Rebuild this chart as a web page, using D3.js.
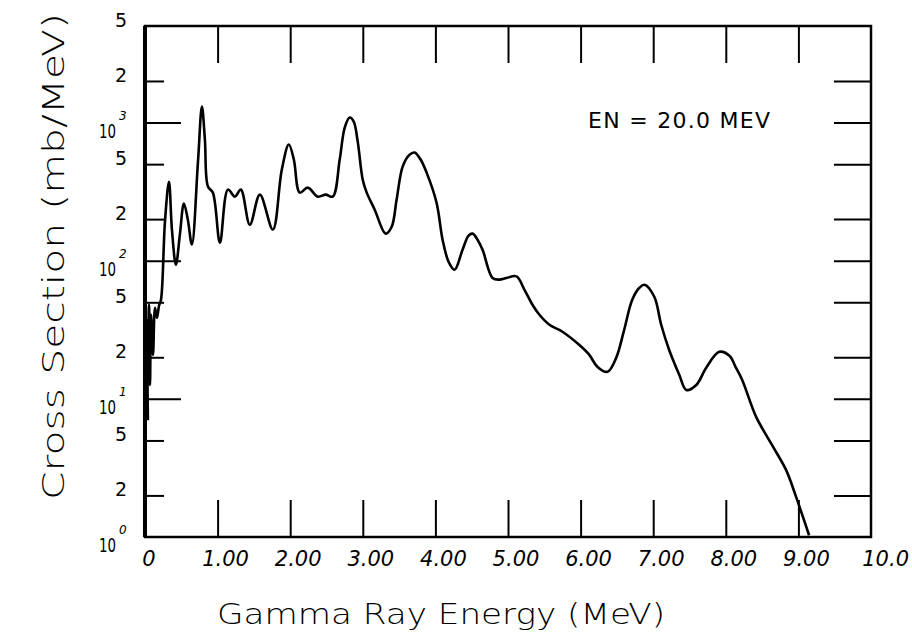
<!DOCTYPE html>
<html>
<head>
<meta charset="utf-8">
<script src="https://cdn.jsdelivr.net/npm/d3@7"></script>
<style>
  body { margin: 0; background: #fff; }
  svg { display: block; }
  text { font-family: "DejaVu Sans", "Liberation Sans", sans-serif; fill: #000; }
</style>
</head>
<body>
<svg id="chart" width="912" height="643"></svg>
<script>
// Gamma-ray production cross section at incident neutron energy 20 MeV
const energy = [
  0.04, 0.028, 0.041, 0.055, 0.069, 0.083, 0.11, 0.138, 0.165, 0.193, 0.22,
  0.275, 0.33, 0.371, 0.426, 0.48, 0.536, 0.59, 0.646, 0.729, 0.784, 0.825,
  0.867, 0.935, 1.032, 1.142, 1.238, 1.32, 1.444, 1.582, 1.761, 1.884, 1.981,
  2.05, 2.132, 2.242, 2.38, 2.49, 2.586, 2.682, 2.751, 2.82, 2.875, 2.93,
  2.999, 3.054, 3.164, 3.315, 3.398, 3.466, 3.549, 3.645, 3.714, 3.796, 3.879,
  4.016, 4.099, 4.182, 4.264, 4.374, 4.457, 4.512, 4.58, 4.65, 4.787, 4.88,
  4.98, 5.117, 5.227, 5.337, 5.433, 5.57, 5.75, 5.98, 6.12, 6.23, 6.37, 6.49,
  6.60, 6.71, 6.81, 6.88, 7.015, 7.11, 7.22, 7.36, 7.455, 7.593, 7.73, 7.91,
  8.05, 8.14, 8.226, 8.418, 8.64, 8.83, 8.968, 9.147
];
const crossSection = [
  7.0, 37, 27, 48, 12.6, 40.6, 20.8, 45.6, 38.6, 47.2, 52,
  192, 373, 168, 93.5, 154, 259, 198, 131, 513, 1306, 753,
  344, 311, 135, 327, 291, 327, 182, 301, 168, 456, 693,
  540, 311, 338, 291, 301, 291, 540, 920, 1087, 1016, 728,
  386, 311, 234, 157, 176, 277, 480, 586, 607, 540, 434,
  263, 142, 98, 86, 120, 152, 157, 142, 120, 75, 73,
  75, 77, 61.6, 48, 40.6, 34.4, 30.6, 24.6, 20.8, 17.1, 15.7, 19.8,
  31.6, 52, 63.7, 67, 54.8, 34.4, 22.6, 14.9, 11.6, 12.6, 16.8, 21.9,
  20.5, 16.8, 13.7, 7.4, 4.6, 3.06, 1.95, 1.03
];

const xTickValues = [1, 2, 3, 4, 5, 6, 7, 8, 9];
const xLabelValues = [0, 1, 2, 3, 4, 5, 6, 7, 8, 9, 10];
const xLabelText = ["0", "1.00", "2.00", "3.00", "4.00", "5.00", "6.00", "7.00", "8.00", "9.00", "10.0"];

const yDecadeTicks = [1, 10, 100, 1000];
const yMinorTicks = [2, 5, 20, 50, 200, 500, 2000];
const yRightTicks = [2, 5, 10, 20, 50, 100, 200, 500, 1000, 2000];
const yDecadeExponents = ["0", "1", "2", "3"];
const yMinorLabelValues = [2, 5, 20, 50, 200, 500, 2000, 5000];
const yMinorLabelText = ["2", "5", "2", "5", "2", "5", "2", "5"];

const annotation = "EN = 20.0 MEV";
const xTitle = "Gamma Ray Energy (MeV)";
const yTitle = "Cross Section (mb/MeV)";

const plotLeft = 145, plotRight = 871, plotTop = 26, plotBottom = 537;
const svg = d3.select("#chart");

const x = d3.scaleLinear().domain([0, 10]).range([plotLeft, plotRight]);
const y = d3.scaleLog().domain([1, 5000]).range([plotBottom, plotTop]);

function styleAxis(g) {
  g.select(".domain").remove();
  g.selectAll(".tick line").attr("stroke", "#000").attr("stroke-width", 2);
  g.selectAll(".tick text").remove();
}

// inward tick marks on all four sides
svg.append("g").attr("transform", `translate(0,${plotBottom})`)
  .call(d3.axisBottom(x).tickValues(xTickValues).tickSize(-37).tickFormat(""))
  .call(styleAxis);
svg.append("g").attr("transform", `translate(0,${plotTop})`)
  .call(d3.axisTop(x).tickValues(xTickValues).tickSize(-37).tickFormat(""))
  .call(styleAxis);
svg.append("g").attr("transform", `translate(${plotLeft},0)`)
  .call(d3.axisLeft(y).tickValues(yDecadeTicks.slice(1)).tickSize(-36).tickFormat(""))
  .call(styleAxis);
svg.append("g").attr("transform", `translate(${plotLeft},0)`)
  .call(d3.axisLeft(y).tickValues(yMinorTicks).tickSize(-19).tickFormat(""))
  .call(styleAxis);
svg.append("g").attr("transform", `translate(${plotRight},0)`)
  .call(d3.axisRight(y).tickValues(yRightTicks).tickSize(-37).tickFormat(""))
  .call(styleAxis);

// frame
svg.append("rect")
  .attr("x", plotLeft).attr("y", plotTop)
  .attr("width", plotRight - plotLeft).attr("height", plotBottom - plotTop)
  .attr("fill", "none").attr("stroke", "#000").attr("stroke-width", 2.5);
svg.append("line")
  .attr("x1", plotLeft).attr("x2", plotLeft).attr("y1", plotTop).attr("y2", plotBottom)
  .attr("stroke", "#000").attr("stroke-width", 4);

// spectrum
const line = d3.line()
  .x((d, i) => x(energy[i]))
  .y(d => y(d))
  .curve(d3.curveCatmullRom.alpha(0.5));
svg.append("path")
  .datum(crossSection)
  .attr("d", line)
  .attr("fill", "none")
  .attr("stroke", "#000")
  .attr("stroke-width", 2.6)
  .attr("stroke-linejoin", "round");

// x tick labels
svg.append("g").selectAll("text")
  .data(xLabelValues)
  .join("text")
  .attr("x", (d, i) => i === 10 ? 909 : x(d) + (i === 0 ? 4 : 8))
  .attr("y", 566)
  .attr("text-anchor", (d, i) => i === 10 ? "end" : "middle")
  .attr("font-size", 21)
  .attr("font-style", "italic")
  .text((d, i) => xLabelText[i]);

// y tick labels: mantissas
svg.append("g").selectAll("text")
  .data(yMinorLabelValues)
  .join("text")
  .attr("x", 127)
  .attr("y", d => y(d) + 1)
  .attr("text-anchor", "end")
  .attr("font-size", 19)
  .text((d, i) => yMinorLabelText[i]);

// y tick labels: powers of ten, base plus raised exponent in one text
const decade = svg.append("g").selectAll("text")
  .data(yDecadeTicks)
  .join("text")
  .attr("x", 99)
  .attr("y", d => y(d) + 15)
  .attr("font-size", 19);
decade.append("tspan")
  .attr("textLength", 17)
  .attr("lengthAdjust", "spacingAndGlyphs")
  .text("10");
decade.append("tspan")
  .attr("dx", 3)
  .attr("dy", -18)
  .attr("font-size", 12)
  .attr("font-style", "italic")
  .text((d, i) => yDecadeExponents[i]);

// annotation
svg.append("text")
  .attr("x", 588).attr("y", 128)
  .attr("font-size", 22)
  .attr("textLength", 182)
  .attr("lengthAdjust", "spacing")
  .text(annotation);

// axis titles
svg.append("text")
  .attr("x", 217).attr("y", 624)
  .attr("font-size", 29)
  .attr("font-weight", 200)
  .attr("textLength", 448)
  .attr("lengthAdjust", "spacingAndGlyphs")
  .text(xTitle);
svg.append("text")
  .attr("transform", "translate(64,500) rotate(-90)")
  .attr("font-size", 31)
  .attr("font-weight", 200)
  .attr("textLength", 487)
  .attr("lengthAdjust", "spacingAndGlyphs")
  .text(yTitle);
</script>
</body>
</html>
